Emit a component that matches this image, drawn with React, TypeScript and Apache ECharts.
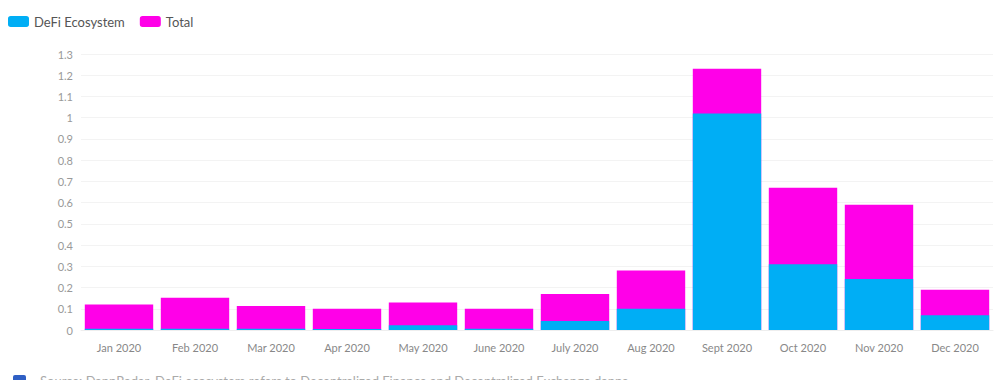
import React, { useEffect, useRef } from "react";
import * as echarts from "echarts";

const categories = ["Jan 2020", "Feb 2020", "Mar 2020", "Apr 2020", "May 2020", "June 2020", "July 2020", "Aug 2020", "Sept 2020", "Oct 2020", "Nov 2020", "Dec 2020"];
const defiValues = [0.006, 0.006, 0.006, 0.005, 0.022, 0.006, 0.042, 0.1, 1.02, 0.31, 0.24, 0.07];
const totalValues = [0.12, 0.152, 0.113, 0.1, 0.13, 0.1, 0.17, 0.28, 1.23, 0.67, 0.59, 0.19];
const footerText = "Source: DappRadar. DeFi ecosystem refers to Decentralized Finance and Decentralized Exchange dapps";

const BLUE = "#00aef5";
const MAGENTA = "#ff00e8";
const FONT = "Lato, 'Noto Sans', sans-serif";

export default function App() {
  const ref = useRef<HTMLDivElement>(null);
  useEffect(() => {
    document.body.style.margin = "0";
    const chart = echarts.init(ref.current!, null, { renderer: "svg" });
    chart.setOption({
      animation: false,
      textStyle: { fontFamily: FONT },
      legend: {
        left: 3,
        top: 10,
        itemWidth: 21,
        itemHeight: 11,
        itemGap: 15,
        icon: "roundRect",
        textStyle: { color: "#555", fontSize: 13, fontFamily: FONT },
        data: ["DeFi Ecosystem", "Total"],
      },
      grid: { left: 81, right: 9, top: 54, bottom: 50 },
      xAxis: {
        type: "category",
        data: categories,
        axisTick: { show: false },
        axisLine: { show: true, lineStyle: { color: "#eeeeee" } },
        axisLabel: { color: "#888", fontSize: 11, margin: 12, fontFamily: FONT },
      },
      yAxis: {
        type: "value",
        min: 0,
        max: 1.3,
        interval: 0.1,
        axisLine: { show: false },
        axisTick: { show: false },
        axisLabel: { color: "#999", fontSize: 11, margin: 8, fontFamily: FONT },
        splitLine: { lineStyle: { color: "#f3f3f3" } },
      },
      series: [
        {
          name: "DeFi Ecosystem",
          type: "bar",
          data: defiValues,
          itemStyle: { color: BLUE },
          barCategoryGap: "10%",
          barGap: "-100%",
          z: 3,
        },
        {
          name: "Total",
          type: "bar",
          data: totalValues,
          itemStyle: { color: MAGENTA },
          barCategoryGap: "10%",
          barGap: "-100%",
          z: 2,
        },
      ],
      graphic: [
        {
          type: "rect",
          left: 13,
          top: 375,
          shape: { width: 13, height: 13, r: 2 },
          style: { fill: "#2f5fc4" },
        },
        {
          type: "text",
          left: 40,
          top: 374,
          style: { text: footerText, fill: "#aaa", fontSize: 13, fontFamily: FONT },
        },
      ],
    });
    return () => chart.dispose();
  }, []);
  return <div ref={ref} style={{ width: 1002, height: 380 }} />;
}
